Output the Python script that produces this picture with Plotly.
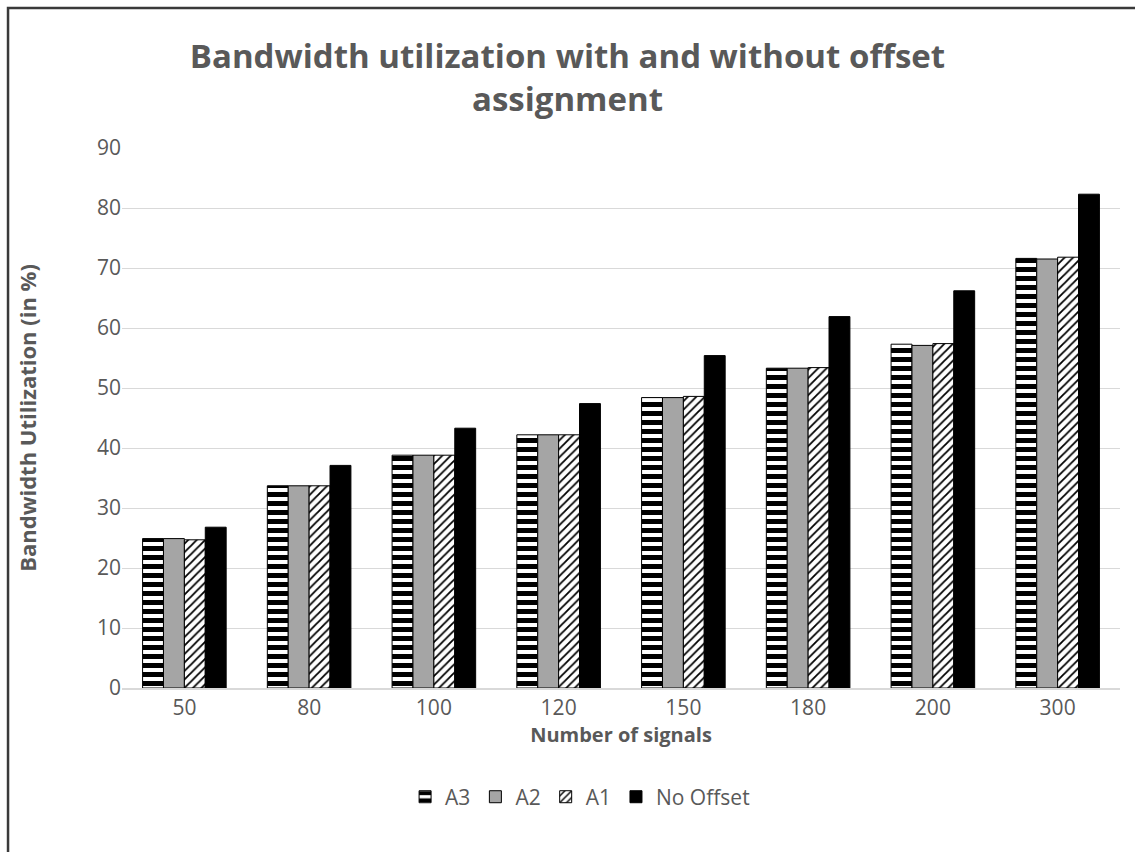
import plotly.graph_objects as go

# Bandwidth utilization per number of signals
signals = ["50", "80", "100", "120", "150", "180", "200", "300"]
a3 = [24.9, 33.7, 38.8, 42.2, 48.4, 53.3, 57.3, 71.6]
a2 = [24.9, 33.7, 38.8, 42.2, 48.4, 53.3, 57.1, 71.5]
a1 = [24.7, 33.7, 38.8, 42.2, 48.6, 53.4, 57.4, 71.8]
no_offset = [26.8, 37.1, 43.3, 47.4, 55.4, 61.9, 66.2, 82.3]

TXT = "#595959"
FONT = "Open Sans"
OUTLINE = dict(color="#000000", width=1)

fig = go.Figure()
fig.add_trace(go.Bar(
    name="A3", x=signals, y=a3,
    marker=dict(color="#ffffff", line=OUTLINE,
                pattern=dict(shape="-", fgcolor="#000000", bgcolor="#ffffff",
                             size=9, solidity=0.55, fillmode="replace")),
))
fig.add_trace(go.Bar(
    name="A2", x=signals, y=a2,
    marker=dict(color="#a5a5a5", line=OUTLINE),
))
fig.add_trace(go.Bar(
    name="A1", x=signals, y=a1,
    marker=dict(color="#ffffff", line=OUTLINE,
                pattern=dict(shape="/", fgcolor="#000000", bgcolor="#ffffff",
                             size=6, solidity=0.3, fillmode="replace")),
))
fig.add_trace(go.Bar(
    name="No Offset", x=signals, y=no_offset,
    marker=dict(color="#000000", line=OUTLINE),
))

# outer chart frame (top and left edges visible)
fig.add_shape(type="rect", xref="paper", yref="paper",
              x0=-0.1142, y0=-0.5, x1=1.1, y1=1.2593,
              line=dict(color="#3a3a3a", width=2.5), fillcolor="rgba(0,0,0,0)",
              layer="below")

fig.update_layout(
    width=1135, height=852,
    margin=dict(l=122, r=15, t=148, b=164),
    paper_bgcolor="#ffffff", plot_bgcolor="#ffffff",
    barmode="group", bargap=0.33, bargroupgap=0,
    font=dict(family=FONT, color=TXT),
    title=dict(
        text="<b>Bandwidth utilization with and without offset<br>assignment</b>",
        x=0.5, xanchor="center", y=0.92, yanchor="middle",
        font=dict(size=33, color=TXT, family=FONT),
    ),
    xaxis=dict(
        title=dict(text="<b>Number of signals</b>", font=dict(size=20, color=TXT), standoff=8),
        tickfont=dict(size=21, color=TXT),
        showline=True, linecolor="#d9d9d9", linewidth=1.5,
        ticks="", showgrid=False,
    ),
    yaxis=dict(
        title=dict(text="<b>Bandwidth Utilization (in %)</b>", font=dict(size=22, color=TXT), standoff=54),
        range=[0, 90], dtick=10,
        tickfont=dict(size=21, color=TXT),
        showgrid=True, gridcolor="#d9d9d9", gridwidth=1.2,
        zeroline=False, showline=False, ticks="",
    ),
    legend=dict(
        orientation="h", x=0.459, xanchor="center", y=-0.202, yanchor="middle",
        font=dict(size=21, color=TXT), traceorder="normal",
        itemwidth=30, tracegroupgap=0,
    ),
)

fig.write_html("out.html")
